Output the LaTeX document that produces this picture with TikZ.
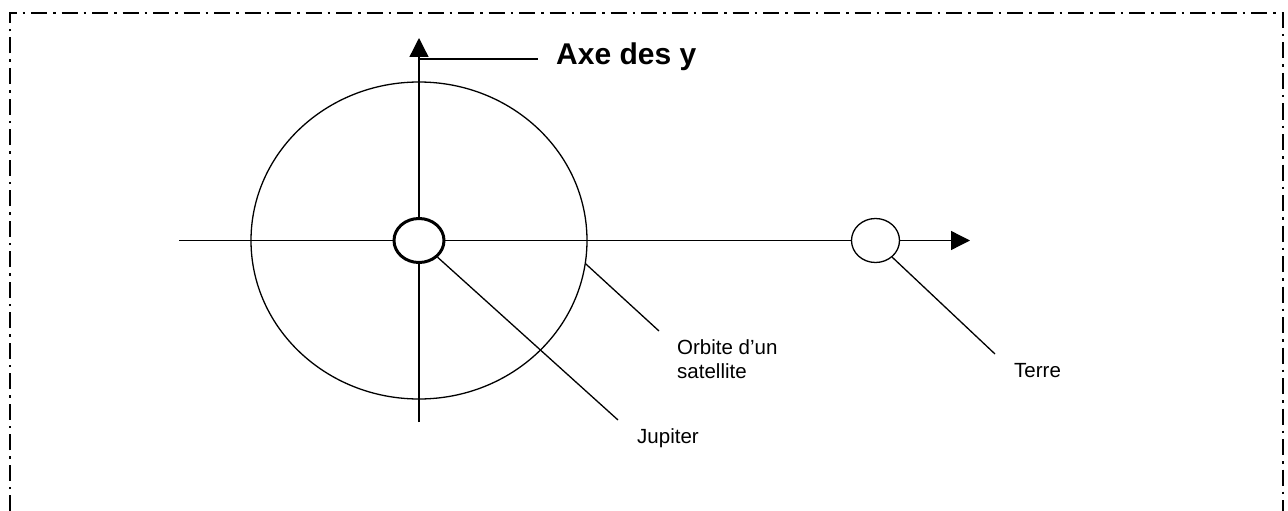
\documentclass[tikz,border=0pt]{standalone}
\usepackage{fontspec}
\setmainfont{Liberation Sans}
\usetikzlibrary{shapes.geometric,arrows.meta}
\tikzset{
  thinline/.style={line width=1.3pt, line cap=butt},
  axisarrow/.style={thinline, -{Triangle[length=19pt,width=19pt]}},
  planet/.style={draw, ellipse, fill=white, inner sep=0pt},
  lbl/.style={inner sep=0pt, font=\fontsize{20.5}{24}\selectfont},
  border/.style={line width=2pt, dash pattern=on 16pt off 6pt on 2.5pt off 6pt}
}
\begin{document}
\begin{tikzpicture}[x=1pt,y=-1pt]
\useasboundingbox (0,0) rectangle (1288,511);
% frame
\draw[border] (10,511) -- (10,13.5) -- (1283,13.5) -- (1283,511);
% orbit
\node[draw, ellipse, thinline, minimum width=336pt, minimum height=317pt, inner sep=0pt] (orb) at (419,240.5) {};
% axes
\coordinate (xs) at (179,240.5);
\coordinate (xe) at (970,240.5);
\coordinate (ys) at (419,422);
\coordinate (ye) at (419,38);
\draw[axisarrow] (xs) -- (xe);
\draw[axisarrow] (ys) -- (ye);
% y label
\coordinate (yl) at (419,59);
\coordinate (yle) at (538,59);
\draw[thinline] (yl) -- (yle);
\node[anchor=base west, inner sep=0pt, font=\fontsize{30}{34}\selectfont\bfseries] (axe) at (556,65) {Axe des y};
% planets
\node[planet, line width=3pt, minimum width=50pt, minimum height=44pt] (jup) at (419,240.5) {};
\node[planet, thinline, minimum width=48pt, minimum height=44pt] (terre) at (875.5,240.5) {};
% labels
\node[lbl, anchor=base west] (jupl) at (637,443) {Jupiter};
\node[lbl, anchor=north west, align=left] (orbl) at (677,339) {Orbite d’un\\satellite};
\node[lbl, anchor=base west] (terl) at (1014,377) {Terre};
% leaders
\coordinate (jupend) at (618,420);
\coordinate (orbend) at (659,331);
\coordinate (terend) at (995,354);
\draw[thinline] (jup.-42) -- (jupend);
\draw[thinline] (orb.-8) -- (orbend);
\draw[thinline] (terre.-45) -- (terend);
\end{tikzpicture}
\end{document}
